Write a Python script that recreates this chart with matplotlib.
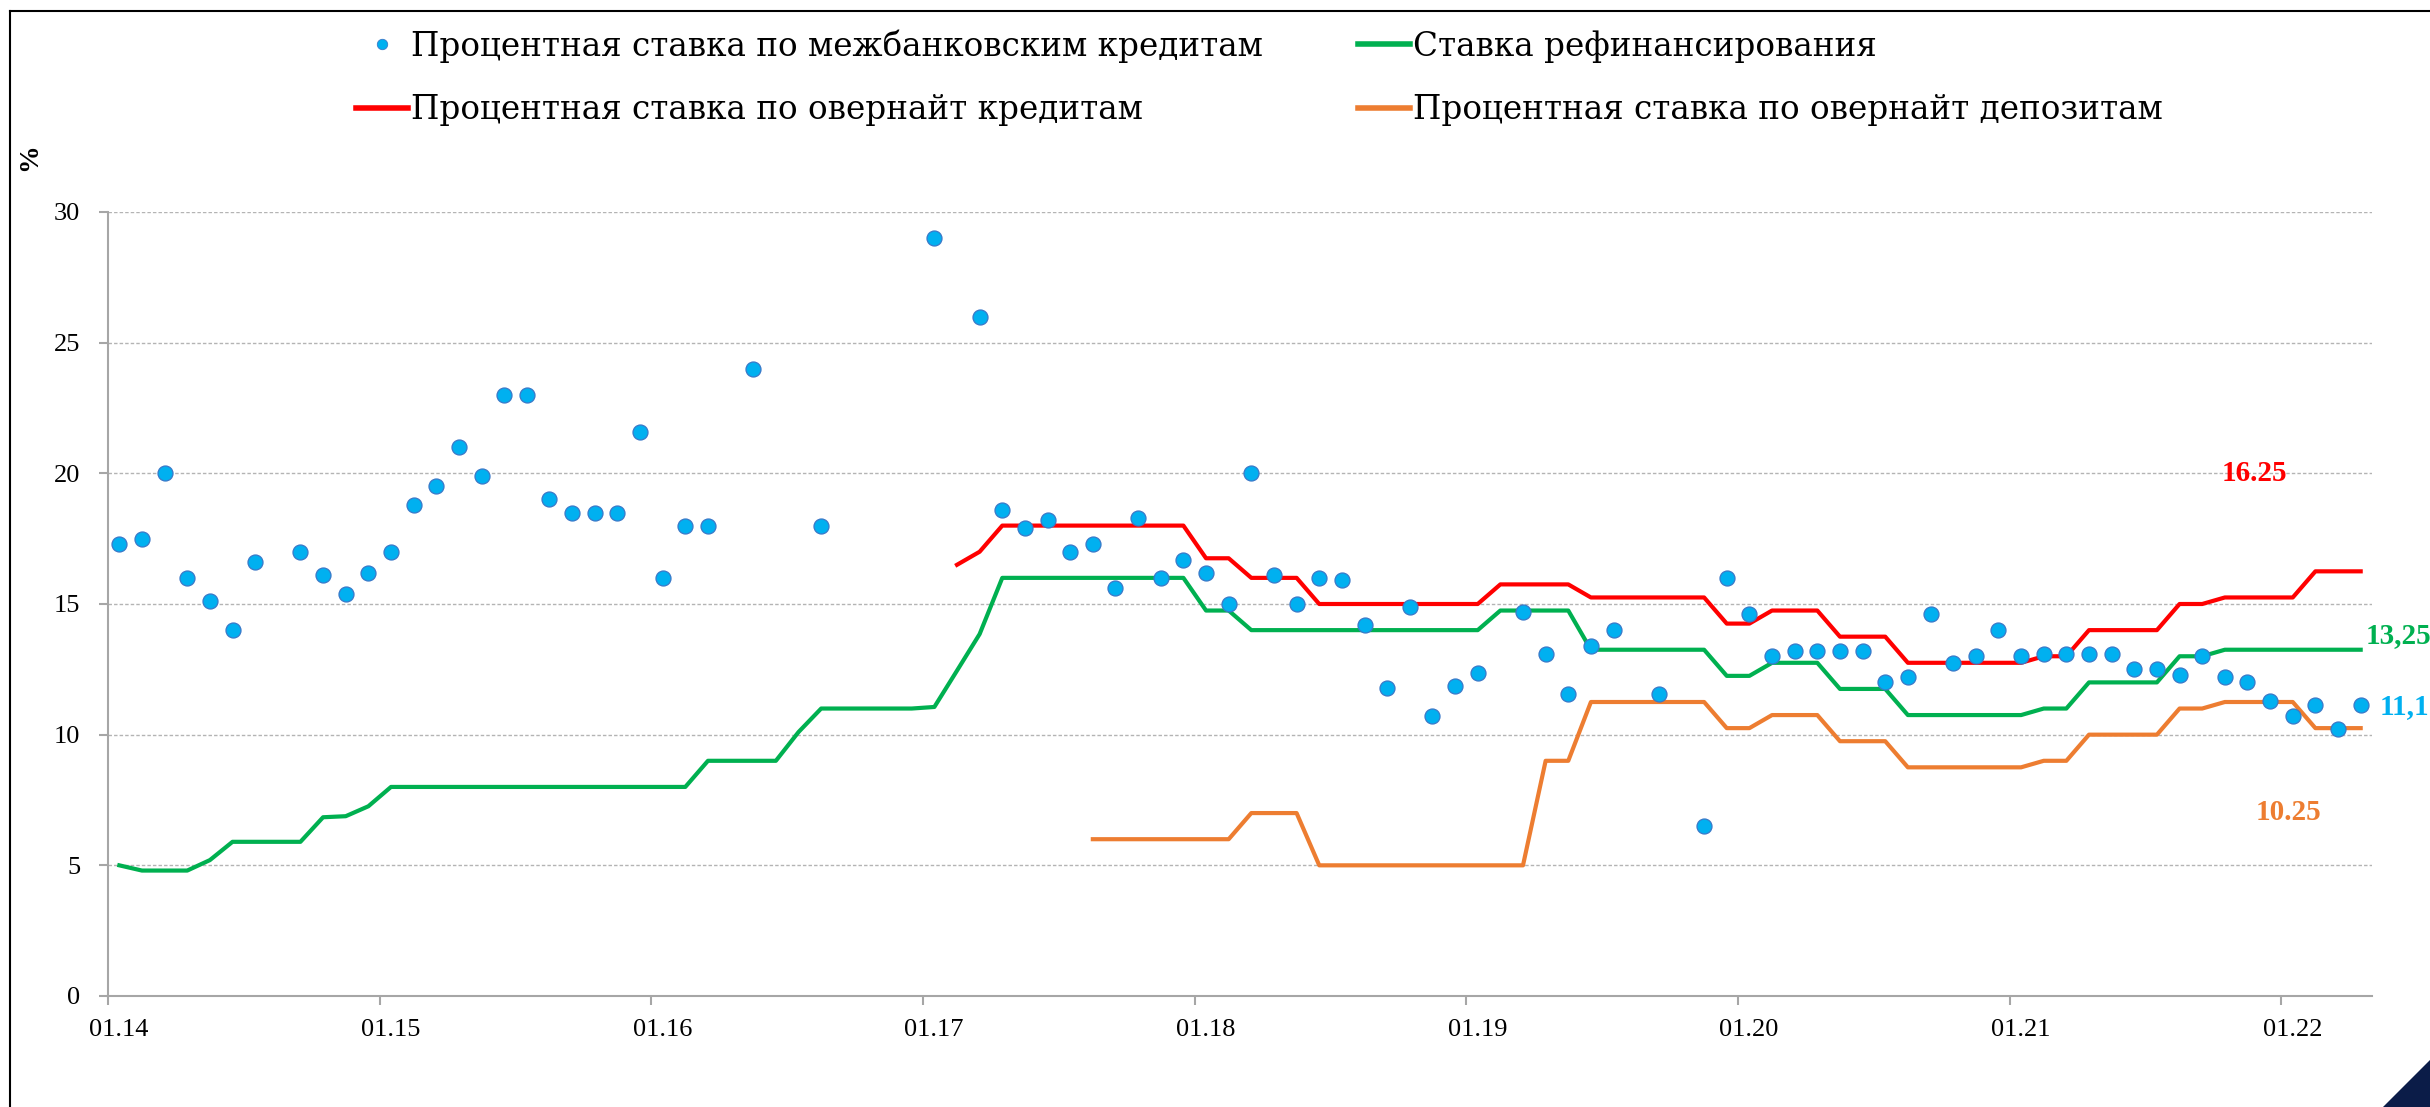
import numpy as np
import matplotlib
matplotlib.use('Agg')
import matplotlib.pyplot as plt
from matplotlib.lines import Line2D
from matplotlib.patches import Polygon
import matplotlib.transforms as mtransforms

nan = np.nan

# ---------------- data (monthly, 01.2014 .. 04.2022) ----------------
tick_labels = ['01.14', '01.15', '01.16', '01.17', '01.18',
               '01.19', '01.20', '01.21', '01.22']

interbank = [
    17.3, 17.5, 20.0, 16.0, 15.1, 14.0, 16.6, nan, 17.0, 16.1, 15.4, 16.2,
    17.0, 18.8, 19.5, 21.0, 19.9, 23.0, 23.0, 19.0, 18.5, 18.5, 18.5, 21.6,
    16.0, 18.0, 18.0, nan, 24.0, nan, nan, 18.0, nan, nan, nan, nan,
    29.0, nan, 26.0, 18.6, 17.9, 18.2, 17.0, 17.3, 15.6, 18.3, 16.0, 16.7,
    16.2, 15.0, 20.0, 16.1, 15.0, 16.0, 15.9, 14.2, 11.8, 14.9, 10.7, 11.85,
    12.35, nan, 14.7, 13.1, 11.55, 13.4, 14.0, nan, 11.55, nan, 6.5, 16.0,
    14.6, 13.0, 13.2, 13.2, 13.2, 13.2, 12.0, 12.2, 14.6, 12.75, 13.0, 14.0,
    13.0, 13.1, 13.1, 13.1, 13.1, 12.5, 12.5, 12.3, 13.0, 12.2, 12.0, 11.3,
    10.7, 11.13, 10.2, 11.13,
]

refinancing = [
    5.0, 4.8, 4.8, 4.8, 5.2, 5.9, 5.9, 5.9, 5.9, 6.84, 6.88, 7.26,
    8.0, 8.0, 8.0, 8.0, 8.0, 8.0, 8.0, 8.0, 8.0, 8.0, 8.0, 8.0,
    8.0, 8.0, 9.0, 9.0, 9.0, 9.0, 10.1, 11.0, 11.0, 11.0, 11.0, 11.0,
    11.06, 12.45, 13.85, 16.0, 16.0, 16.0, 16.0, 16.0, 16.0, 16.0, 16.0, 16.0,
    14.75, 14.75, 14.0, 14.0, 14.0, 14.0, 14.0, 14.0, 14.0, 14.0, 14.0, 14.0,
    14.0, 14.75, 14.75, 14.75, 14.75, 13.25, 13.25, 13.25, 13.25, 13.25, 13.25, 12.25,
    12.25, 12.75, 12.75, 12.75, 11.75, 11.75, 11.75, 10.75, 10.75, 10.75, 10.75, 10.75,
    10.75, 11.0, 11.0, 12.0, 12.0, 12.0, 12.0, 13.0, 13.0, 13.25, 13.25, 13.25,
    13.25, 13.25, 13.25, 13.25,
]

overnight_credit = [
    nan, nan, nan, nan, nan, nan, nan, nan, nan, nan, nan, nan,
    nan, nan, nan, nan, nan, nan, nan, nan, nan, nan, nan, nan,
    nan, nan, nan, nan, nan, nan, nan, nan, nan, nan, nan, nan,
    nan, 16.5, 17.0, 18.0, 18.0, 18.0, 18.0, 18.0, 18.0, 18.0, 18.0, 18.0,
    16.75, 16.75, 16.0, 16.0, 16.0, 15.0, 15.0, 15.0, 15.0, 15.0, 15.0, 15.0,
    15.0, 15.75, 15.75, 15.75, 15.75, 15.25, 15.25, 15.25, 15.25, 15.25, 15.25, 14.25,
    14.25, 14.75, 14.75, 14.75, 13.75, 13.75, 13.75, 12.75, 12.75, 12.75, 12.75, 12.75,
    12.75, 13.0, 13.0, 14.0, 14.0, 14.0, 14.0, 15.0, 15.0, 15.25, 15.25, 15.25,
    15.25, 16.25, 16.25, 16.25,
]

overnight_deposit = [
    nan, nan, nan, nan, nan, nan, nan, nan, nan, nan, nan, nan,
    nan, nan, nan, nan, nan, nan, nan, nan, nan, nan, nan, nan,
    nan, nan, nan, nan, nan, nan, nan, nan, nan, nan, nan, nan,
    nan, nan, nan, nan, nan, nan, nan, 6.0, 6.0, 6.0, 6.0, 6.0,
    6.0, 6.0, 7.0, 7.0, 7.0, 5.0, 5.0, 5.0, 5.0, 5.0, 5.0, 5.0,
    5.0, 5.0, 5.0, 9.0, 9.0, 11.25, 11.25, 11.25, 11.25, 11.25, 11.25, 10.25,
    10.25, 10.75, 10.75, 10.75, 9.75, 9.75, 9.75, 8.75, 8.75, 8.75, 8.75, 8.75,
    8.75, 9.0, 9.0, 10.0, 10.0, 10.0, 10.0, 11.0, 11.0, 11.25, 11.25, 11.25,
    11.25, 10.25, 10.25, 10.25,
]

series_labels = ['Процентная ставка по межбанковским кредитам',
                 'Процентная ставка по овернайт кредитам',
                 'Ставка рефинансирования',
                 'Процентная ставка по овернайт депозитам']
end_labels = ['16.25', '13,25', '11,1', '10.25']
y_label = '%'

# ---------------- styling ----------------
C_BLUE = '#00B0F0'
C_BLUE_EDGE = '#3A78C8'
C_GREEN = '#00B050'
C_RED = '#FF0000'
C_ORANGE = '#ED7D31'
AX_GRAY = '#A6A6A6'
GRID_GRAY = '#B4B4B4'
SERIF = 'Liberation Serif'
LEG_FONT = 'DejaVu Serif'

plt.rcParams['font.family'] = [SERIF, 'DejaVu Serif']

W, H = 2430, 1107
fig = plt.figure(figsize=(W / 100, H / 100), dpi=100)
fig.patch.set_facecolor('white')

ax = fig.add_axes([108 / W, 1 - 996 / H, (2372 - 108) / W, (996 - 212) / H])

n = len(interbank)
x = np.arange(n) + 0.5

ax.plot(x, refinancing, color=C_GREEN, lw=3.0, zorder=3)
ax.plot(x, overnight_credit, color=C_RED, lw=3.0, zorder=3)
ax.plot(x, overnight_deposit, color=C_ORANGE, lw=3.0, zorder=3)
ax.plot(x, interbank, ls='none', marker='o', ms=10.8, mfc=C_BLUE,
        mec=C_BLUE_EDGE, mew=0.9, zorder=4)

ax.set_xlim(0, n)
ax.set_ylim(0, 30)
ax.set_yticks(np.arange(0, 31, 5))
ax.set_yticklabels([str(v) for v in range(0, 31, 5)])
ax.set_xticks(np.arange(len(tick_labels)) * 12)
ax.set_xticklabels(tick_labels)

for side in ('top', 'right'):
    ax.spines[side].set_visible(False)
for side in ('left', 'bottom'):
    ax.spines[side].set_color(AX_GRAY)
    ax.spines[side].set_linewidth(1.5)

ax.tick_params(axis='both', direction='out', color=AX_GRAY, width=1.5,
               length=6.5, labelsize=19, labelcolor='black')
ax.tick_params(axis='y', pad=13.5)
ax.tick_params(axis='x', pad=10)
offset = mtransforms.ScaledTranslation(11 / 100, 0, fig.dpi_scale_trans)
for lab in ax.get_xticklabels():
    lab.set_transform(lab.get_transform() + offset)

ax.yaxis.grid(True, color=GRID_GRAY, lw=1.0, linestyle=(0, (2.5, 1.5)))
ax.set_axisbelow(True)

# end-of-series value labels
ax.text(94.8, 20.0, end_labels[0], color=C_RED, fontsize=21, fontweight='bold',
        ha='center', va='center', clip_on=False)
ax.text(99.7, 13.8, end_labels[1], color=C_GREEN, fontsize=21, fontweight='bold',
        ha='left', va='center', clip_on=False)
ax.text(100.35, 11.06, end_labels[2], color=C_BLUE, fontsize=21, fontweight='bold',
        ha='left', va='center', clip_on=False)
ax.text(96.3, 7.04, end_labels[3], color=C_ORANGE, fontsize=21, fontweight='bold',
        ha='center', va='center', clip_on=False)

# y axis unit
fig.text(30 / W, 1 - 157 / H, y_label, rotation=90, fontsize=20, fontweight='bold',
         ha='center', va='center')

# ---------------- legend ----------------
fs_leg = 23.5
fs_px = fs_leg * 100 / 72
renderer = fig.canvas.get_renderer()
t = fig.text(0, 0, series_labels[0], fontsize=fs_leg, family=LEG_FONT)
bb = t.get_window_extent(renderer)
t.remove()
text_w, text_h = bb.width, bb.height

handles = [
    Line2D([], [], ls='none', marker='o', ms=7.5, mfc=C_BLUE, mec=C_BLUE_EDGE, mew=0.6),
    Line2D([], [], color=C_RED, lw=4),
    Line2D([], [], color=C_GREEN, lw=4),
    Line2D([], [], color=C_ORANGE, lw=4),
]
colsp = max((1358 - 411 - text_w) / fs_px, 0.2)
leg = fig.legend(handles, series_labels, ncol=2, loc='upper left',
                 bbox_to_anchor=(356 / W, 1 - (46 - text_h / 2) / H),
                 bbox_transform=fig.transFigure,
                 frameon=False, borderpad=0, borderaxespad=0,
                 handlelength=52 / fs_px, handletextpad=3 / fs_px,
                 columnspacing=colsp, labelspacing=(65 - text_h) / fs_px,
                 prop={'family': LEG_FONT, 'size': fs_leg})

# ---------------- decorations: frame + corner ----------------
fig.add_artist(Line2D([10.5 / W, 1.0], [1 - 10.5 / H, 1 - 10.5 / H],
                      transform=fig.transFigure, color='black', lw=1.5))
fig.add_artist(Line2D([10.5 / W, 10.5 / W], [1 - 10.5 / H, 0.0],
                      transform=fig.transFigure, color='black', lw=1.5))
fig.add_artist(Polygon([[2383 / W, 0.0], [1.0, 47 / H], [1.0, 0.0]], closed=True,
                       transform=fig.transFigure, facecolor='#0B1C48',
                       edgecolor='none'))

fig.savefig('out.png', dpi=100)
